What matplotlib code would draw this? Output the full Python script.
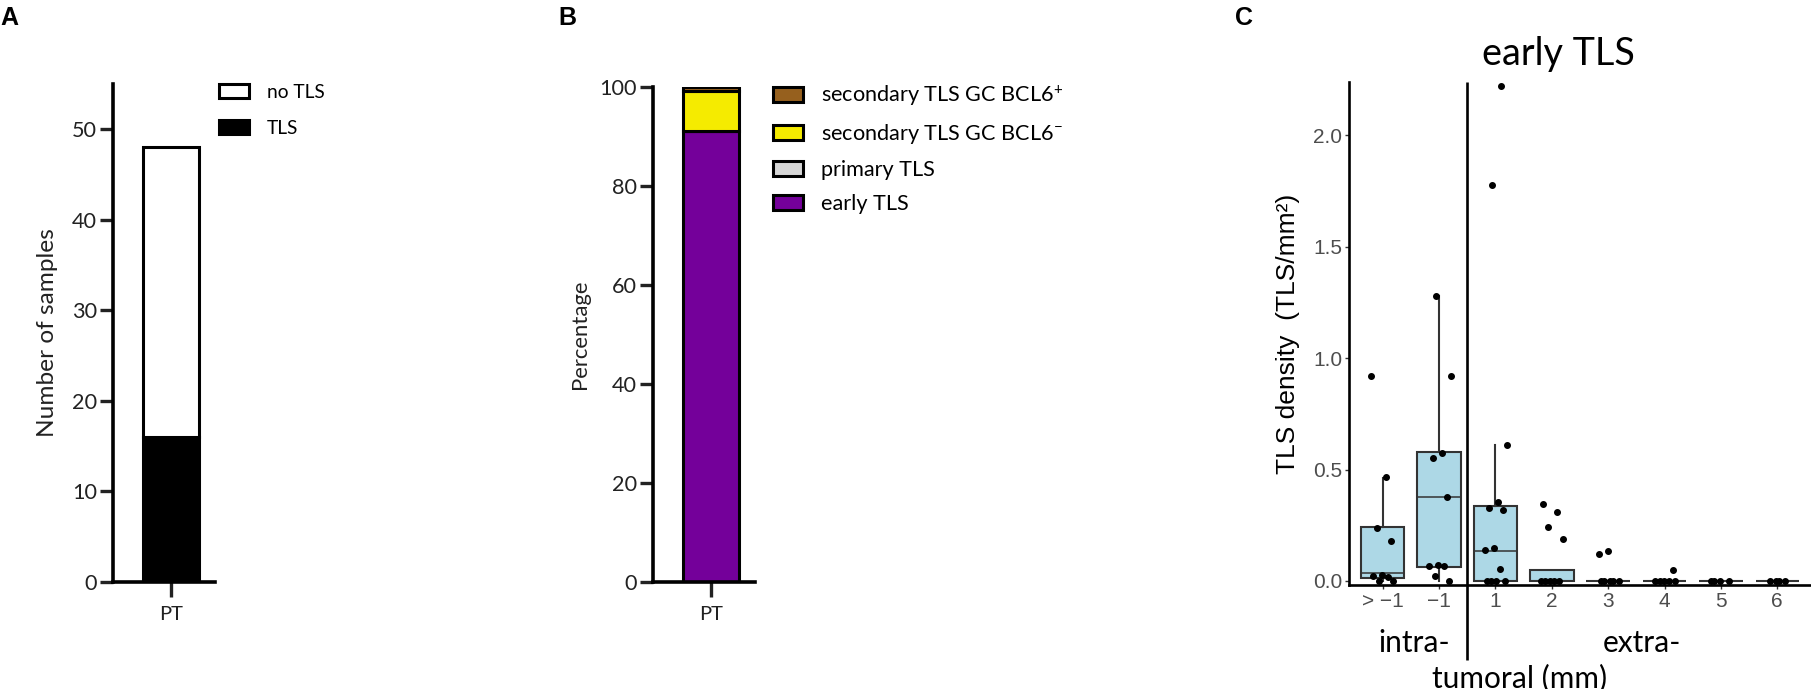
import matplotlib
matplotlib.use("Agg")
import matplotlib.pyplot as plt
import matplotlib.transforms as mtransforms
from matplotlib.patches import Patch
import numpy as np

plt.rcParams["font.family"] = ["Lato", "DejaVu Sans"]
plt.rcParams["mathtext.fontset"] = "custom"
plt.rcParams["mathtext.rm"] = "Lato"
plt.rcParams["mathtext.it"] = "Lato:italic"
plt.rcParams["mathtext.bf"] = "Lato:bold"

# ---- data ----
# A: number of samples with / without TLS
a_groups = ["PT"]
a_tls = [16]
a_no_tls = [32]          # total 48

# B: percentage of TLS maturation stages
b_groups = ["PT"]
b_early = [91.2]
b_primary = [0.0]
b_sec_neg = [7.9]
b_sec_pos = [0.9]

# C: early TLS density by distance to tumour border
c_labels = ["> \u22121", "\u22121", "1", "2", "3", "4", "5", "6"]
c_q1 = [0.012, 0.062, 0.0, 0.0, 0.0, 0.0, 0.0, 0.0]
c_med = [0.034, 0.375, 0.134, 0.0, 0.0, 0.0, 0.0, 0.0]
c_q3 = [0.240, 0.579, 0.335, 0.048, 0.0, 0.0, 0.0, 0.0]
c_wlo = [0.0, 0.0, 0.0, 0.0, 0.0, 0.0, 0.0, 0.0]
c_whi = [0.463, 1.277, 0.609, 0.048, 0.0, 0.0, 0.0, 0.0]
c_points = [
    [0.918, 0.467, 0.238, 0.18, 0.026, 0.022, 0.018, 0.0, 0.0],
    [1.277, 0.92, 0.575, 0.553, 0.375, 0.072, 0.066, 0.065, 0.022, 0.0],
    [2.218, 1.776, 0.609, 0.355, 0.327, 0.32, 0.15, 0.14, 0.054, 0.0, 0.0, 0.0, 0.0],
    [0.345, 0.31, 0.24, 0.19, 0.0, 0.0, 0.0, 0.0, 0.0],
    [0.135, 0.12, 0.0, 0.0, 0.0, 0.0, 0.0],
    [0.048, 0.0, 0.0, 0.0, 0.0, 0.0],
    [0.0, 0.0, 0.0, 0.0],
    [0.0, 0.0, 0.0, 0.0],
]

W, H = 1811, 689
fig = plt.figure(figsize=(W / 100, H / 100), dpi=100)
fig.canvas.draw()
rend = fig.canvas.get_renderer()


def fit(txt, target_px, family="Lato", base=20.0):
    # font size (pt) so that txt is target_px wide
    t = fig.text(0, 0, txt, fontsize=base, family=family)
    w = t.get_window_extent(renderer=rend).width
    t.remove()
    return base * target_px / w


def row_h(fs, family="Lato"):
    t = fig.text(0, 0, "Xg", fontsize=fs, family=family)
    h = t.get_window_extent(renderer=rend).height
    t.remove()
    return h


fs_tick = fit("20", 25)
fs_pt = fit("PT", 24)
fs_ylab_a = fit("Number of samples", 209)
fs_ylab_b = fit("Percentage", 110)
fs_leg_a = fit("no TLS", 58)
fs_leg_b = fit("secondary TLS GC BCL6", 232)
fs_title = fit("early TLS", 153)
fs_ann = (fit("intra-", 72) + fit("extra-", 74) + fit("tumoral (mm)", 184)) / 3
fs_ctick = fit("2.0", 29, family="Liberation Sans")
fs_cylab = fit("TLS density  (TLS/mm\u00b2)", 280, family="Liberation Sans")

tick_col = "#222222"


def prism_axes(ax, ymax, yticks):
    for s in ["top", "right"]:
        ax.spines[s].set_visible(False)
    for s in ["left", "bottom"]:
        ax.spines[s].set_linewidth(2.6)
        ax.spines[s].set_color("black")
    ax.set_ylim(0, ymax)
    ax.set_yticks(yticks)
    ax.set_xlim(-1.04, 0.79)
    ax.tick_params(axis="y", length=9.5, width=2.4, pad=2, labelsize=fs_tick, colors=tick_col)
    ax.tick_params(axis="x", length=10.5, width=2.4, pad=7, labelsize=fs_pt, colors=tick_col)


def legend_at(handles, fs, left_px, first_row_px, spacing_px):
    px = fs * 100 / 72
    rh = row_h(fs)
    top = first_row_px - rh / 2
    fig.legend(handles=handles, loc="upper left", bbox_to_anchor=(left_px / W, 1 - top / H),
               frameon=False, fontsize=fs, borderpad=0, borderaxespad=0,
               handlelength=30 / px, handleheight=15 / px, handletextpad=18 / px,
               labelspacing=(spacing_px - rh) / px)


# ---- panel A ----
axA = fig.add_axes([113 / W, 1 - 582 / H, 102 / W, 498 / H])
axA.bar(a_groups, a_tls, width=1.0, color="black", edgecolor="black", linewidth=2.2, zorder=2)
axA.bar(a_groups, a_no_tls, bottom=a_tls, width=1.0, color="white", edgecolor="black",
        linewidth=2.2, zorder=2)
prism_axes(axA, 55, range(0, 51, 10))
axA.set_ylabel("Number of samples", fontsize=fs_ylab_a, color=tick_col)
axA.yaxis.set_label_coords(-0.54, 0.5)

legA = [Patch(facecolor="white", edgecolor="black", linewidth=2.2, label="no TLS"),
        Patch(facecolor="black", edgecolor="black", linewidth=2.2, label="TLS")]
legend_at(legA, fs_leg_a, 219, 92, 36)

# ---- panel B ----
axB = fig.add_axes([653 / W, 1 - 582 / H, 102 / W, 495 / H])
b_cols = {"early": "#74009A", "primary": "#D6D6D6", "neg": "#F5EB00", "pos": "#96601E"}
bottom = np.zeros(len(b_groups))
for vals, key in [(b_early, "early"), (b_primary, "primary"), (b_sec_neg, "neg"), (b_sec_pos, "pos")]:
    axB.bar(b_groups, vals, bottom=bottom, width=1.0, color=b_cols[key], edgecolor="black",
            linewidth=2.2, zorder=2)
    bottom = bottom + np.array(vals)
prism_axes(axB, 100, range(0, 101, 20))
axB.set_ylabel("Percentage", fontsize=fs_ylab_b, color=tick_col)
axB.yaxis.set_label_coords(-0.62, 0.5)

legB = [Patch(facecolor=b_cols["pos"], edgecolor="black", linewidth=2.2,
              label=r"secondary TLS GC BCL6$^{+}$"),
        Patch(facecolor=b_cols["neg"], edgecolor="black", linewidth=2.2,
              label=r"secondary TLS GC BCL6$^{-}$"),
        Patch(facecolor=b_cols["primary"], edgecolor="black", linewidth=2.2, label="primary TLS"),
        Patch(facecolor=b_cols["early"], edgecolor="black", linewidth=2.2, label="early TLS")]
legend_at(legB, fs_leg_b, 773, 93, 34)

# ---- panel C ----
axC = fig.add_axes([1349 / W, 1 - 585 / H, 462 / W, 503 / H])
stats = []
for i in range(len(c_labels)):
    stats.append(dict(q1=c_q1[i], med=c_med[i], q3=c_q3[i], whislo=c_wlo[i], whishi=c_whi[i],
                      fliers=[]))
pos = np.arange(len(c_labels))
axC.bxp(stats, positions=pos, widths=0.77, patch_artist=True, showcaps=False, showfliers=False,
        boxprops=dict(facecolor="#ADD8E6", edgecolor="#333333", linewidth=1.5),
        medianprops=dict(color="#333333", linewidth=1.1),
        whiskerprops=dict(color="#333333", linewidth=1.5))
for i, vals in enumerate(c_points):
    n = len(vals)
    offs = ((np.arange(n) * 0.618 + 0.37 * i) % 1 - 0.5) * 0.42
    axC.plot(pos[i] + offs, vals, "o", color="black", ms=4, zorder=4, clip_on=False)

axC.set_xlim(-0.6, 7.6)
axC.set_ylim(-0.018, 2.238)
axC.set_yticks([0, 0.5, 1.0, 1.5, 2.0])
axC.set_yticklabels(["0.0", "0.5", "1.0", "1.5", "2.0"])
axC.set_xticks(pos)
axC.set_xticklabels(c_labels)
for s in ["top", "right"]:
    axC.spines[s].set_visible(False)
for s in ["left", "bottom"]:
    axC.spines[s].set_linewidth(1.9)
    axC.spines[s].set_color("black")
axC.tick_params(length=3, width=1, color="#333333", labelcolor="#4D4D4D", labelsize=fs_ctick, pad=2)
for lab in axC.get_xticklabels() + axC.get_yticklabels():
    lab.set_family("Liberation Sans")
axC.set_ylabel("TLS density  (TLS/mm\u00b2)", fontsize=fs_cylab, family="Liberation Sans",
               color="black")
axC.yaxis.set_label_coords(-0.106, 0.5)

bt = mtransforms.blended_transform_factory(axC.transData, axC.transAxes)
axC.plot([1.5, 1.5], [-0.149, 1.0], transform=bt, color="black", lw=1.9, clip_on=False,
         solid_capstyle="butt")
axC.text(0.55, -0.133, "intra-", transform=bt, ha="center", va="baseline", fontsize=fs_ann)
axC.text(4.6, -0.133, "extra-", transform=bt, ha="center", va="baseline", fontsize=fs_ann)
axC.text(2.42, -0.203, "tumoral (mm)", transform=bt, ha="center", va="baseline", fontsize=fs_ann)

fig.text(1558 / W, 1 - 65 / H, "early TLS", ha="center", va="baseline", fontsize=fs_title)

# panel letters
for x, letter in [(0 / W, "A"), (558 / W, "B"), (1235 / W, "C")]:
    fig.text(x, 1 - 25 / H, letter, fontsize=18, weight="bold", family="Liberation Sans",
             va="baseline")

fig.savefig("out.png", dpi=100)
